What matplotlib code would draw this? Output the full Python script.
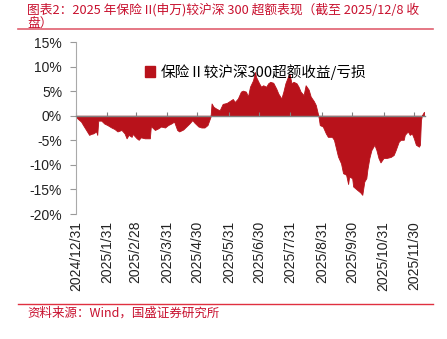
import matplotlib
matplotlib.use("Agg")
import matplotlib.pyplot as plt
import matplotlib.dates as mdates
from matplotlib.patches import Patch
from matplotlib.lines import Line2D
import numpy as np
import pandas as pd

plt.rcParams['font.family'] = ['Liberation Sans', 'Noto Sans CJK SC', 'DejaVu Sans']

# ---- data ----
title_text = "图表2：2025 年保险 II(申万)较沪深 300 超额表现（截至 2025/12/8 收\n盘）"
source_text = "资料来源：Wind，国盛证券研究所"
series_name = "保险Ⅱ较沪深300超额收益/亏损"
start_date = "2024-12-31"
days = [0, 5, 7, 10, 13, 15, 17, 20, 21, 22, 25, 28, 31, 35, 38, 41, 45, 48, 50, 52,
        55, 56, 60, 62, 64, 68, 71, 73, 74, 78, 81, 84, 88, 91, 94, 97, 100, 102, 106, 109,
        112, 115, 117, 121, 124, 127, 130, 133, 134, 136, 139, 142, 145, 149, 152, 155, 157, 160, 163, 165,
        168, 170, 172, 175, 177, 178, 181, 183, 185, 188, 190, 192, 195, 198, 200, 203, 205, 207, 210, 211,
        213, 215, 218, 220, 222, 225, 227, 230, 232, 235, 237, 239, 240, 241, 244, 247, 249, 253, 255, 257,
        259, 262, 264, 267, 269, 270, 273, 274, 278, 281, 283, 285, 287, 288, 290, 292, 295, 297, 299, 301,
        304, 307, 311, 314, 316, 319, 321, 324, 325, 328, 330, 332, 334, 336, 339, 340, 341, 342, 344]
values = [-0.3, -1.2, -1.9, -2.9, -3.9, -3.7, -3.6, -3.2, -3.9, -1.0, -1.0, -1.6, -1.9, -2.4, -2.7, -3.2, -2.9, -3.6, -4.6, -3.9,
          -4.3, -3.7, -4.6, -4.9, -4.4, -4.6, -4.6, -4.6, -2.1, -2.9, -2.6, -2.2, -2.4, -1.9, -1.6, -1.2, -2.9, -3.2, -2.8, -2.2,
          -1.6, -0.9, -1.4, -2.2, -2.4, -2.4, -1.9, -0.2, 2.5, 1.8, 1.4, 1.1, 2.4, 2.6, 3.0, 3.4, 2.8, 3.5, 4.9, 5.1,
          4.9, 3.9, 5.9, 7.2, 8.9, 7.9, 6.6, 5.9, 6.2, 5.9, 6.6, 6.9, 6.7, 5.5, 4.5, 3.5, 4.9, 6.6, 8.2, 8.6,
          6.6, 6.9, 6.6, 5.9, 4.9, 4.2, 6.2, 5.3, 3.9, 3.0, 2.2, 0.5, -0.5, -1.9, -2.2, -3.6, -4.3, -4.3, -4.9, -6.6,
          -8.3, -9.7, -11.7, -12.0, -13.9, -12.4, -12.7, -14.4, -15.1, -15.6, -16.1, -13.4, -12.7, -11.0, -8.6, -7.0, -5.9, -7.0, -8.6, -9.5,
          -8.6, -8.6, -8.4, -8.0, -7.0, -5.3, -4.9, -4.9, -3.9, -3.2, -3.9, -3.6, -4.6, -5.9, -6.3, -5.9, -0.9, 0.1, 0.8]
tick_dates = ["2024-12-31", "2025-01-31", "2025-02-28", "2025-03-31", "2025-04-30", "2025-05-31",
              "2025-06-30", "2025-07-31", "2025-08-31", "2025-09-30", "2025-10-31", "2025-11-30"]
tick_labels = ["2024/12/31", "2025/1/31", "2025/2/28", "2025/3/31", "2025/4/30", "2025/5/31",
               "2025/6/30", "2025/7/31", "2025/8/31", "2025/9/30", "2025/10/31", "2025/11/30"]
y_ticks = [15, 10, 5, 0, -5, -10, -15, -20]

# ---- figure ----
fill_color = "#B8121B"
red = "#C8102E"
fig = plt.figure(figsize=(4.47, 3.39), dpi=100)
W, H = 447, 339
ax = fig.add_axes([76 / W, 1 - 214 / H, 349 / W, 172 / H])

x = pd.Timestamp(start_date) + pd.to_timedelta(days, unit="D")
v = np.array(values)
ax.fill_between(x, 0, v, color=fill_color, linewidth=0.6, edgecolor=fill_color)

ax.set_ylim(-20, 15)
ax.set_xlim(pd.Timestamp(start_date), x[-1] + pd.Timedelta(days=1))
ax.set_yticks(y_ticks)
ax.set_yticklabels([f"{t}%" for t in y_ticks], fontsize=10, color="#222222")
ax.tick_params(axis="y", direction="out", length=4, width=0.8, color="#999999", pad=6)

for s in ["top", "right"]:
    ax.spines[s].set_visible(False)
ax.spines["left"].set_color("#aaaaaa")
ax.spines["left"].set_linewidth(0.8)
ax.spines["bottom"].set_position(("data", 0))
ax.spines["bottom"].set_color("#808080")
ax.spines["bottom"].set_linewidth(1.0)
ax.spines["bottom"].set_zorder(3)

tick_pos = pd.to_datetime(tick_dates)
ax.set_xticks(tick_pos)
ax.tick_params(axis="x", direction="in", length=3, width=0.8, color="#808080", labelbottom=False)

sec = ax.secondary_xaxis(-0.04)
sec.set_xticks(tick_pos)
sec.set_xticklabels(tick_labels, rotation=90, fontsize=10, color="#222222", va="top", ha="center")
sec.tick_params(axis="x", length=0, pad=0)
sec.spines["bottom"].set_visible(False)

handle = Patch(facecolor=fill_color, edgecolor=fill_color)
leg = ax.legend([handle], [series_name], loc="upper left", bbox_to_anchor=(0.16, 0.95),
                frameon=False, handlelength=0.7, handleheight=0.7, handletextpad=0.4,
                prop={"family": ["Noto Sans CJK SC", "DejaVu Sans"], "size": 10.5})

# title and source
fig.text(27 / W, 1 - 3 / H, title_text, color=red, fontsize=9.2, style="italic",
         family=["Noto Sans CJK SC", "DejaVu Sans"], va="top", ha="left", linespacing=1.1)
fig.add_artist(Line2D([18 / W, 433 / W], [1 - 29 / H, 1 - 29 / H], color="#E06070", linewidth=1.2))
fig.add_artist(Line2D([18 / W, 433 / W], [1 - 304 / H, 1 - 304 / H], color="#E03040", linewidth=1.0))
fig.text(27 / W, 1 - 313 / H, source_text, color=red, fontsize=9, style="italic",
         family=["Noto Sans CJK SC", "DejaVu Sans"], va="center", ha="left")

fig.savefig("out.png", dpi=100)
